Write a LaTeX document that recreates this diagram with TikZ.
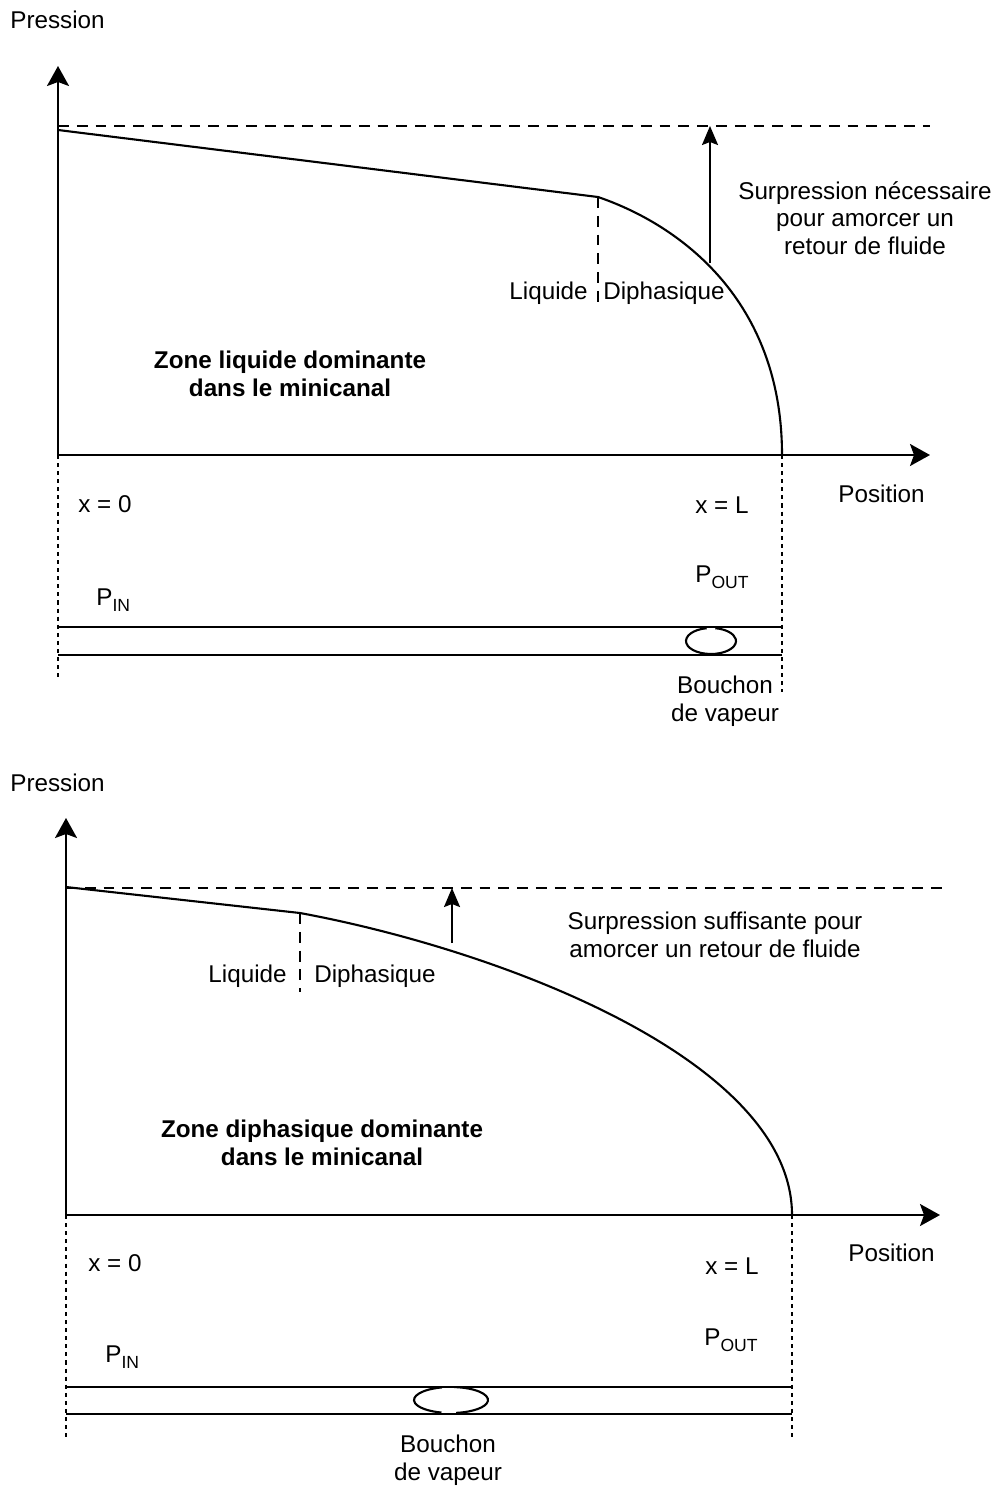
\documentclass[tikz,border=0pt]{standalone}
\usepackage{fontspec}
\setmainfont{Liberation Sans}
\usetikzlibrary{arrows.meta}

\newcommand{\indice}[1]{\raisebox{-0.5ex}{\fontsize{10}{10}\selectfont #1}}

\begin{document}
\begin{tikzpicture}[x=0.02cm,y=-0.02cm,
  every node/.style={font=\fontsize{13.8}{15.8}\selectfont,inner sep=0pt},
  axe/.style={line width=1.2pt,-{Stealth[length=4mm,width=4.4mm,inset=0.8mm]}},
  courbe/.style={line width=1.2pt},
  tirets/.style={line width=1.2pt,dash pattern=on 6.2pt off 4.5pt},
  pointilles/.style={line width=1.2pt,dash pattern=on 2.3pt off 2.3pt},
  fleche/.style={line width=1.2pt,-{Stealth[length=3.8mm,width=3.2mm,inset=0.6mm]}},
  canal/.style={line width=1.2pt}]

  \useasboundingbox (0,0) rectangle (999,1487);

  % ---------- Premier graphe ----------
  \coordinate (O1) at (58,455);
  \coordinate (Y1) at (58,66);
  \coordinate (X1) at (930,455);
  \coordinate (D1a) at (58,126);
  \coordinate (D1b) at (930,126);
  \coordinate (A1) at (58,130);
  \coordinate (K1) at (598,197);
  \coordinate (K1b) at (598,302);
  \coordinate (L1) at (782,455);
  \coordinate (S1) at (710,263);
  \coordinate (S1t) at (710,126);

  % Axes
  \draw[axe] (O1) -- (Y1);
  \draw[axe] (O1) -- (X1);
  \draw[tirets] (D1a) -- (D1b);

  % Courbe de pression
  \draw[courbe] (A1) -- (K1) .. controls (680,225) and (782,300) .. (L1);
  \draw[tirets] (K1) -- (K1b);
  \draw[fleche] (S1) -- (S1t);

  % Textes
  \node[anchor=base west] (p1) at (10,29) {Pression};
  \node[anchor=base west] (pos1) at (838,502) {Position};
  \node[align=center] (sur1) at (865,218) {Surpression nécessaire\\pour amorcer un\\retour de fluide};
  \node[anchor=base east] (liq1) at (588,299) {Liquide};
  \node[anchor=base west] (dip1) at (603,299) {Diphasique};
  \node[align=center,font=\fontsize{13.8}{15.8}\selectfont\bfseries] (zone1) at (290,374)
    {Zone liquide dominante\\dans le minicanal};
  \node[anchor=base west] (x01) at (78,512) {x = 0};
  \node[anchor=base west] (xL1) at (695,513) {x = L};
  \node[anchor=base west] (pin1) at (96,605) {P\indice{IN}};
  \node[anchor=base west] (pout1) at (695,582) {P\indice{OUT}};

  % Minicanal
  \coordinate (C1a) at (58,627);  \coordinate (C1b) at (782,627);
  \coordinate (C1c) at (58,655);  \coordinate (C1d) at (782,655);
  \coordinate (V1a) at (58,678);  \coordinate (V1b) at (782,692);
  \draw[canal] (C1a) -- (C1b);
  \draw[canal] (C1c) -- (C1d);
  \draw[pointilles] (O1) -- (V1a);
  \draw[pointilles] (L1) -- (V1b);
  \coordinate (B1) at (711,641);
  \draw[line width=1.2pt] ([shift={(100:0.5cm and 0.26cm)}]B1)
    arc[start angle=100,end angle=440,x radius=0.5cm,y radius=0.26cm];
  \node[align=center] (bou1) at (725,701) {Bouchon\\de vapeur};

  % ---------- Second graphe ----------
  \coordinate (O2) at (66,1215);
  \coordinate (Y2) at (66,818);
  \coordinate (X2) at (940,1215);
  \coordinate (D2a) at (66,888);
  \coordinate (D2b) at (945,888);
  \coordinate (A2) at (66,887);
  \coordinate (K2) at (300,913);
  \coordinate (K2b) at (300,992);
  \coordinate (L2) at (792,1215);
  \coordinate (S2) at (452,943);
  \coordinate (S2t) at (452,888);

  % Axes
  \draw[axe] (O2) -- (Y2);
  \draw[axe] (O2) -- (X2);
  \draw[tirets] (D2a) -- (D2b);

  % Courbe de pression
  \draw[courbe] (A2) -- (K2) .. controls (500,950) and (792,1060) .. (L2);
  \draw[tirets] (K2) -- (K2b);
  \draw[fleche] (S2) -- (S2t);

  % Textes
  \node[anchor=base west] (p2) at (10,791) {Pression};
  \node[anchor=base west] (pos2) at (848,1261) {Position};
  \node[align=center] (sur2) at (715,935) {Surpression suffisante pour\\amorcer un retour de fluide};
  \node[anchor=base east] (liq2) at (287,982) {Liquide};
  \node[anchor=base west] (dip2) at (314,982) {Diphasique};
  \node[align=center,font=\fontsize{13.8}{15.8}\selectfont\bfseries] (zone2) at (322,1143)
    {Zone diphasique dominante\\dans le minicanal};
  \node[anchor=base west] (x02) at (88,1271) {x = 0};
  \node[anchor=base west] (xL2) at (705,1274) {x = L};
  \node[anchor=base west] (pin2) at (105,1362) {P\indice{IN}};
  \node[anchor=base west] (pout2) at (704,1345) {P\indice{OUT}};

  % Minicanal
  \coordinate (C2a) at (66,1387);  \coordinate (C2b) at (792,1387);
  \coordinate (C2c) at (66,1414);  \coordinate (C2d) at (792,1414);
  \coordinate (V2a) at (66,1440);  \coordinate (V2b) at (792,1440);
  \draw[canal] (C2a) -- (C2b);
  \draw[canal] (C2c) -- (C2d);
  \draw[pointilles] (O2) -- (V2a);
  \draw[pointilles] (L2) -- (V2b);
  \coordinate (B2) at (451,1400);
  \draw[line width=1.2pt] ([shift={(104:0.74cm and 0.26cm)}]B2)
    arc[start angle=104,end angle=255,x radius=0.74cm,y radius=0.26cm];
  \draw[line width=1.2pt] ([shift={(85:0.74cm and 0.26cm)}]B2)
    arc[start angle=85,end angle=-82,x radius=0.74cm,y radius=0.26cm];
  \node[align=center] (bou2) at (448,1460) {Bouchon\\de vapeur};

\end{tikzpicture}
\end{document}
